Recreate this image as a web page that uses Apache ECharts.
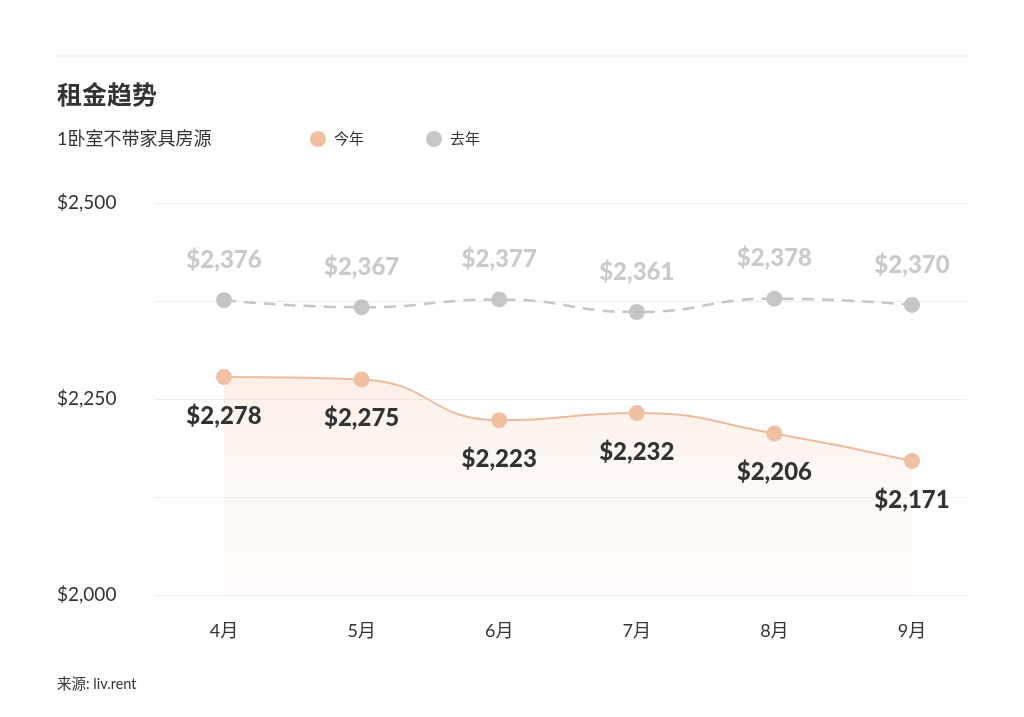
<!DOCTYPE html>
<html>
<head>
<meta charset="utf-8">
<script src="https://cdn.jsdelivr.net/npm/echarts@6/dist/echarts.min.js"></script>
<style>
html,body{margin:0;padding:0;background:#fff;}
#main{width:1024px;height:717px;}
</style>
</head>
<body>
<div id="main"></div>
<script>
const months = ['4月','5月','6月','7月','8月','9月'];
const thisYear = [2278, 2275, 2223, 2232, 2206, 2171];
const lastYear = [2376, 2367, 2377, 2361, 2378, 2370];
const yTickLabels = [2000, 2250, 2500];

const FONT = "Lato, 'Noto Sans CJK SC', sans-serif";
const fmt = v => '$' + Number(v).toLocaleString('en-US');

const chart = echarts.init(document.getElementById('main'), null, {renderer:'canvas'});
chart.setOption({
  backgroundColor:'#fff',
  animation:false,
  textStyle:{fontFamily:FONT},
  title:[
    {text:'租金趋势', left:57, top:83, padding:0, textStyle:{fontFamily:FONT, fontSize:25, fontWeight:'bold', color:'#333'}},
    {text:'1卧室不带家具房源', left:57, top:130, padding:0, textStyle:{fontFamily:FONT, fontSize:18, fontWeight:'normal', color:'#333'}}
  ],
  legend:{
    left:310, top:131, padding:0, icon:'circle', itemWidth:16, itemHeight:16, itemGap:62,
    textStyle:{fontFamily:FONT, fontSize:15, color:'#333', padding:[0,0,0,3]},
    data:['今年','去年']
  },
  graphic:[
    {type:'line', shape:{x1:57,y1:56,x2:967,y2:56}, style:{stroke:'#eeeeee', lineWidth:1}},
    {type:'text', left:57, top:677, style:{text:'来源: liv.rent', fontFamily:FONT, fontSize:14.5, fill:'#333'}}
  ],
  grid:[
    {left:155, right:57, top:203, bottom:122},
    {left:224, right:112, top:203, bottom:122}
  ],
  xAxis:[
    {gridIndex:0, type:'category', data:months, show:false},
    {
      gridIndex:1, type:'category', data:months, boundaryGap:false,
      axisLine:{show:false}, axisTick:{show:false},
      axisLabel:{fontFamily:FONT, fontSize:18, color:'#333', margin:27},
      splitLine:{show:false}
    }
  ],
  yAxis:[
    {
      gridIndex:0, type:'value', min:2000, max:2500, interval:125,
      axisLine:{show:false}, axisTick:{show:false},
      axisLabel:{
        fontFamily:FONT, fontSize:19, color:'#333', align:'left', margin:98,
        formatter: v => yTickLabels.includes(v) ? fmt(v) : ''
      },
      splitLine:{lineStyle:{color:'#efefef', width:1}}
    },
    {gridIndex:1, type:'value', min:2000, max:2500, interval:125, show:false, splitLine:{show:false}}
  ],
  series:[
    {
      name:'去年', type:'line', data:lastYear, smooth:0.5, xAxisIndex:1, yAxisIndex:1,
      symbol:'circle', symbolSize:16,
      itemStyle:{color:'#c6c6c6'},
      lineStyle:{color:'#c6c6c6', width:2.5, type:[12,8]},
      label:{show:true, position:'top', distance:20, formatter:p=>fmt(p.value),
        fontFamily:FONT, fontSize:24, fontWeight:900, color:'#cacaca'},
      z:3
    },
    {
      name:'今年', type:'line', data:thisYear, smooth:0.5, xAxisIndex:1, yAxisIndex:1,
      symbol:'circle', symbolSize:16,
      itemStyle:{color:'#f0c0a2'},
      lineStyle:{color:'#ecbc9e', width:2},
      areaStyle:{color:new echarts.graphic.LinearGradient(0,0,0,1,[
        {offset:0, color:'rgba(245,200,172,0.40)'},
        {offset:1, color:'rgba(252,235,225,0.15)'}
      ])},
      label:{show:true, position:'bottom', distance:19, formatter:p=>fmt(p.value),
        fontFamily:FONT, fontSize:24, fontWeight:900, color:'#333'},
      z:4
    }
  ]
});
</script>
</body>
</html>
